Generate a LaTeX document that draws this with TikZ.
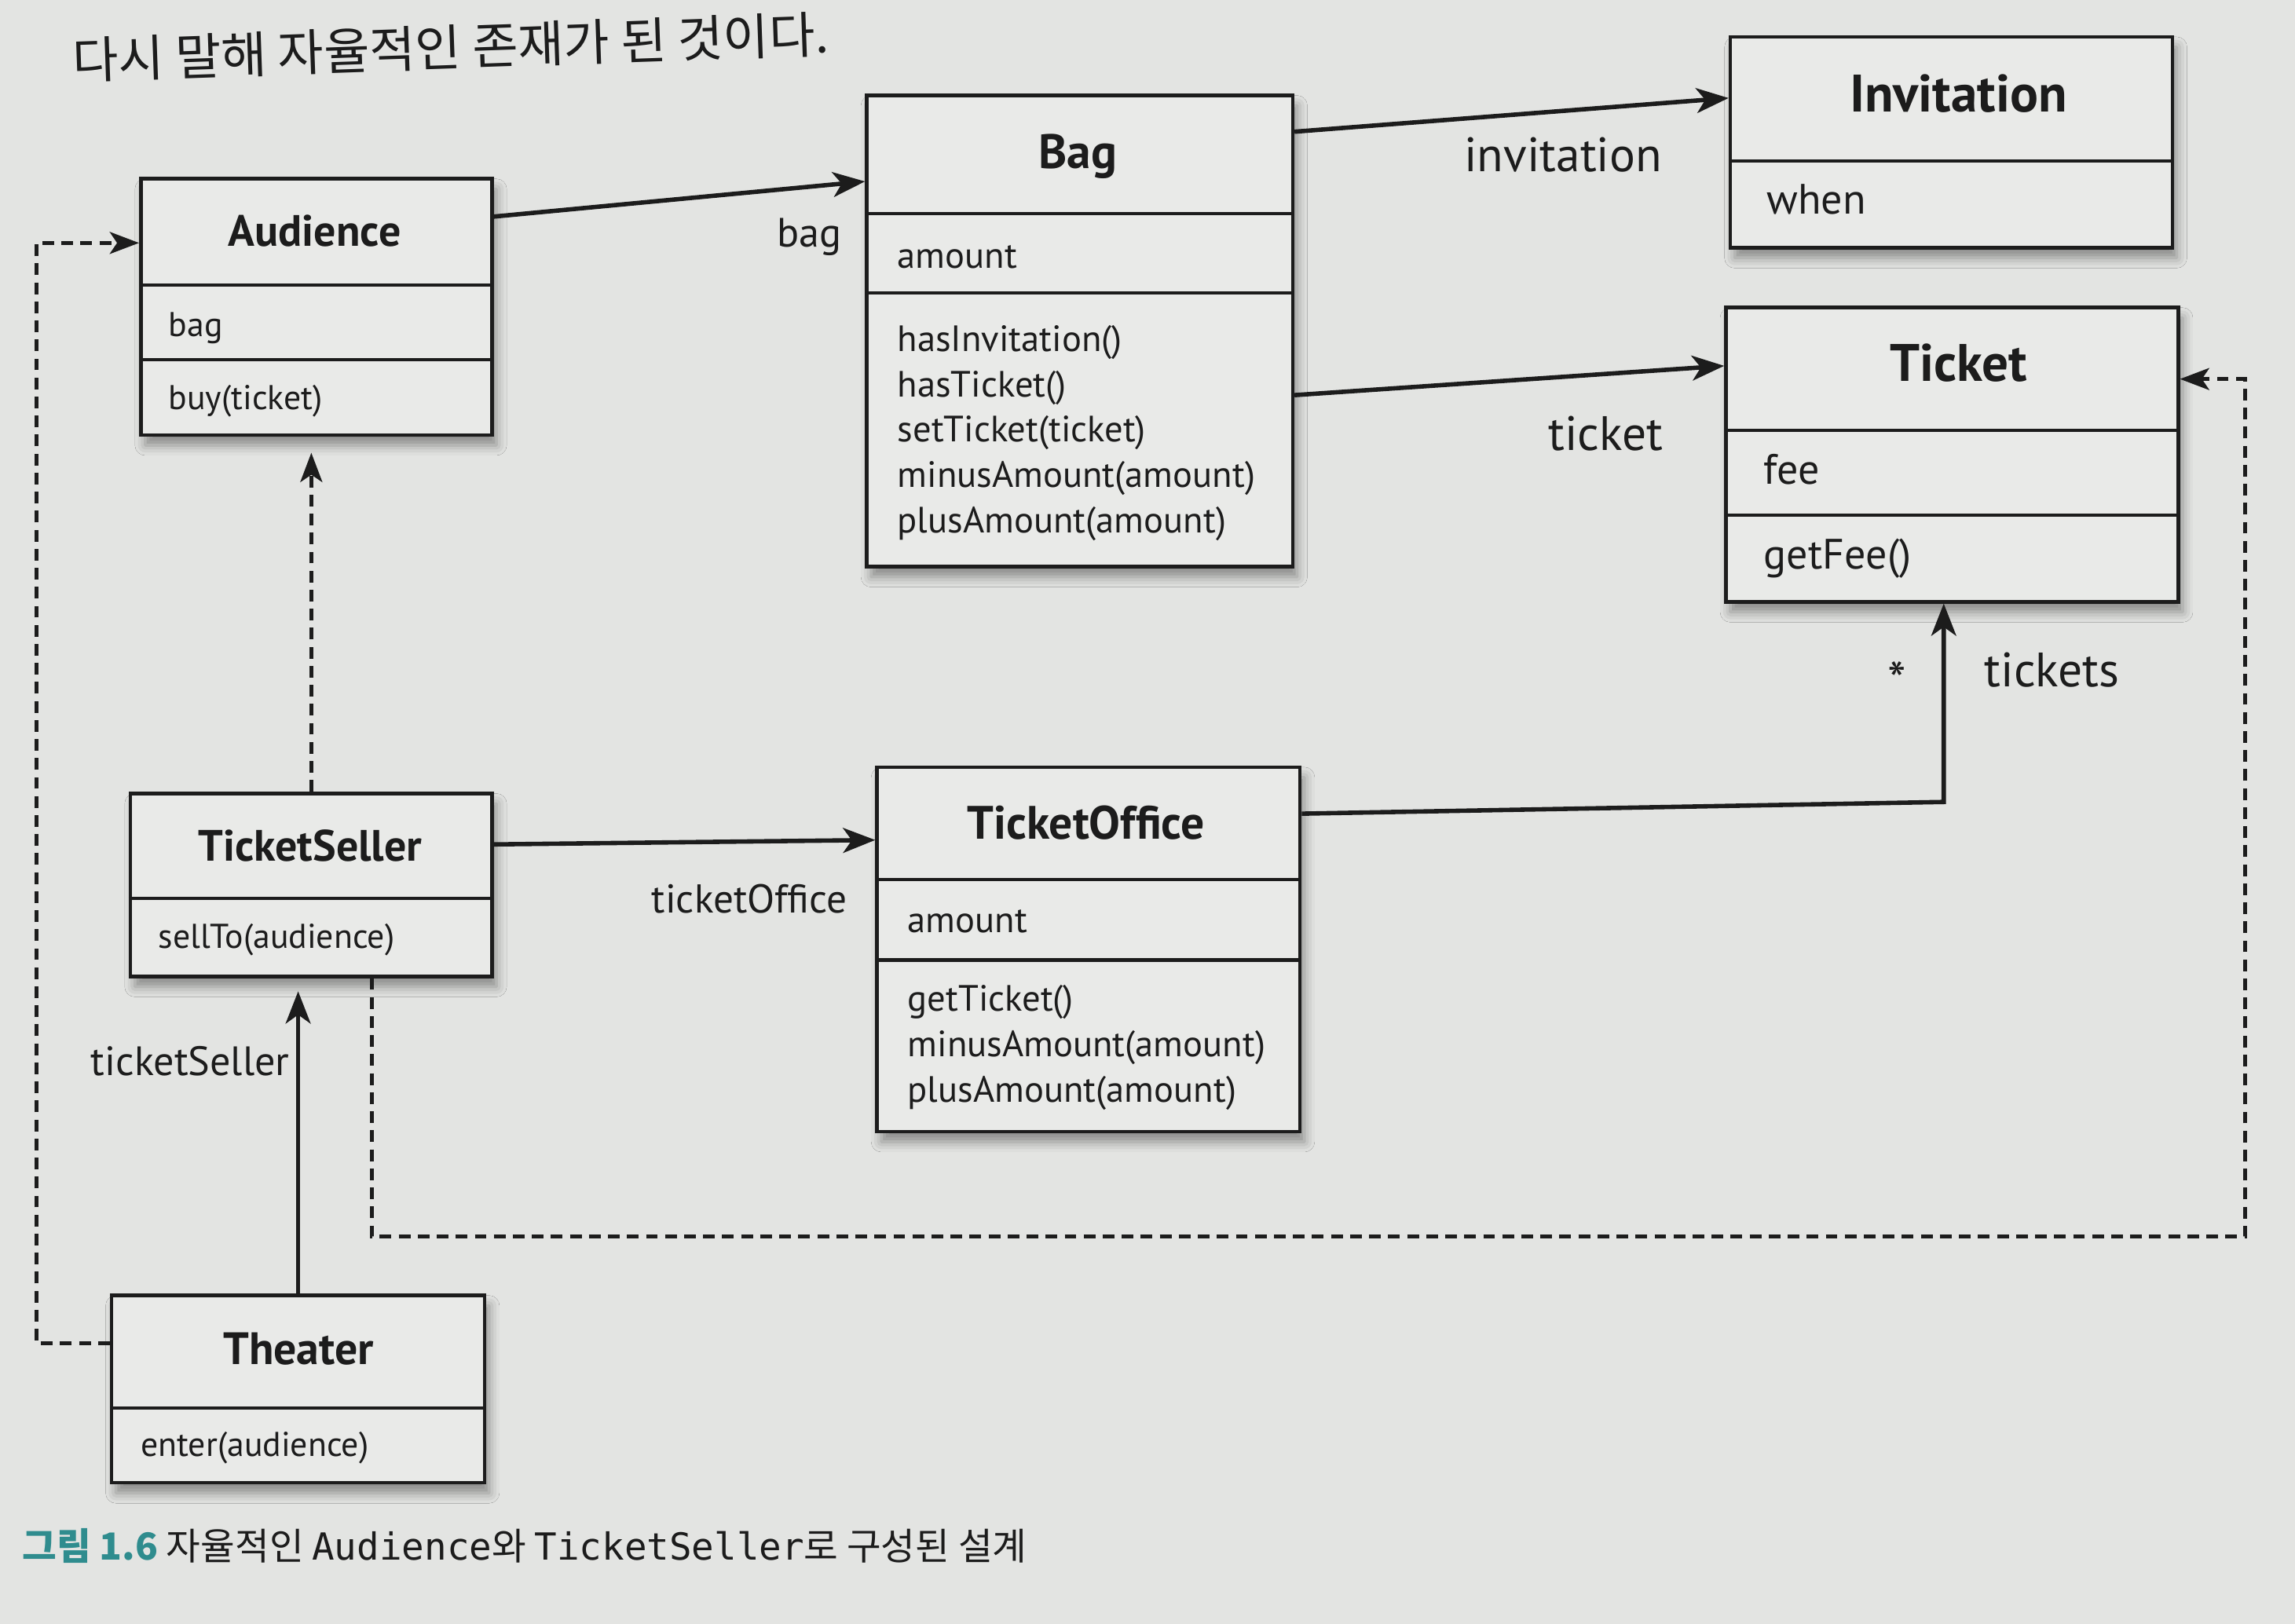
\documentclass[tikz,border=0pt]{standalone}
\usepackage{fontspec}
\setmainfont{PT Sans}
\newfontfamily\kr{Noto Sans CJK KR}
\newfontfamily\mono{DejaVu Sans Mono}
\usetikzlibrary{arrows.meta,shadows.blur}
\definecolor{paper}{HTML}{E3E4E2}
\definecolor{boxfill}{HTML}{E9EAE8}
\definecolor{ink}{HTML}{1C1C1C}
\definecolor{capteal}{HTML}{2F8C8E}
\begin{document}
\begin{tikzpicture}[x=1pt,y=-1pt,
  cls/.style={draw=ink, line width=2.4pt, fill=boxfill, inner sep=0pt, anchor=north west,
    blur shadow={shadow xshift=3pt, shadow yshift=-7pt, shadow blur radius=7pt, shadow opacity=40}},
  div/.style={draw=ink, line width=2.2pt},
  ttl/.style={font=\fontsize{#1}{#1}\selectfont\bfseries, text=ink, inner sep=0pt},
  ttl/.default=30,
  mem/.style={font=\fontsize{#1}{#1}\selectfont, text=ink, inner sep=0pt, anchor=base west},
  mem/.default=25,
  lbl/.style={font=\fontsize{#1}{#1}\selectfont, text=ink, inner sep=0pt},
  lbl/.default=28,
  assoc/.style={draw=ink, line width=3pt, -{Stealth[length=22pt,width=17pt,inset=6pt]}},
  dep/.style={draw=ink, line width=2.4pt, dash pattern=on 8pt off 5pt, -{Stealth[length=20pt,width=15pt,inset=5pt]}}
]
\fill[paper] (0,0) rectangle (1568,1109.7);
\useasboundingbox (0,0) rectangle (1568,1109.7);

% heading text
\node[font=\kr\fontsize{34}{40}\selectfont, text=ink, rotate=2, anchor=base west, inner sep=0pt] (head) at (50,54) {다시 말해 자율적인 존재가 된 것이다.};

% ---------- Audience ----------
\node[cls, minimum width=240pt, minimum height=175pt] (aud) at (95,121) {};
\draw[div] (aud.west |- 0,195) -- (aud.east |- 0,195);
\draw[div] (aud.west |- 0,246) -- (aud.east |- 0,246);
\node[ttl=30] (audT) at (215,158) {Audience};
\node[mem=23.5] (audF) at (115,230) {bag};
\node[mem=23.5] (audM) at (115,280) {buy(ticket)};

% ---------- Bag ----------
\node[cls, minimum width=291pt, minimum height=322pt] (bag) at (591,64) {};
\draw[div] (bag.west |- 0,146) -- (bag.east |- 0,146);
\draw[div] (bag.west |- 0,200) -- (bag.east |- 0,200);
\node[ttl=33] (bagT) at (736.5,107) {Bag};
\node[mem] (bagF) at (613,183) {amount};
\node[mem] (bagM1) at (613,240) {hasInvitation()};
\node[mem] (bagM2) at (613,271) {hasTicket()};
\node[mem] (bagM3) at (613,302) {setTicket(ticket)};
\node[mem] (bagM4) at (613,333) {minusAmount(amount)};
\node[mem] (bagM5) at (613,364) {plusAmount(amount)};

% ---------- Invitation ----------
\node[cls, minimum width=302pt, minimum height=144pt] (inv) at (1181,24) {};
\draw[div] (inv.west |- 0,110) -- (inv.east |- 0,110);
\node[ttl=36] (invT) at (1338,64) {Invitation};
\node[mem=29] (invF) at (1207,146) {when};

% ---------- Ticket ----------
\node[cls, minimum width=309pt, minimum height=201pt] (tic) at (1178,209) {};
\draw[div] (tic.west |- 0,294) -- (tic.east |- 0,294);
\draw[div] (tic.west |- 0,352) -- (tic.east |- 0,352);
\node[ttl=36] (ticT) at (1338,248) {Ticket};
\node[mem=29] (ticF) at (1205,331) {fee};
\node[mem=29] (ticM) at (1205,389) {getFee()};

% ---------- TicketSeller ----------
\node[cls, minimum width=247pt, minimum height=125pt] (ts) at (88,541) {};
\draw[div] (ts.west |- 0,614) -- (ts.east |- 0,614);
\node[ttl=30] (tsT) at (212,578) {TicketSeller};
\node[mem=23.5] (tsM) at (108,648) {sellTo(audience)};

% ---------- TicketOffice ----------
\node[cls, minimum width=289pt, minimum height=249pt] (to) at (598,523) {};
\draw[div] (to.west |- 0,601) -- (to.east |- 0,601);
\draw[div] (to.west |- 0,656) -- (to.east |- 0,656);
\node[ttl=32] (toT) at (742,562) {TicketOffice};
\node[mem] (toF) at (620,637) {amount};
\node[mem] (toM1) at (620,691) {getTicket()};
\node[mem] (toM2) at (620,722) {minusAmount(amount)};
\node[mem] (toM3) at (620,753) {plusAmount(amount)};

% ---------- Theater ----------
\node[cls, minimum width=255pt, minimum height=128pt] (th) at (75,884) {};
\draw[div] (th.west |- 0,962) -- (th.east |- 0,962);
\node[ttl=31] (thT) at (204,922) {Theater};
\node[mem=23.5] (thM) at (96,995) {enter(audience)};

% ---------- associations ----------
\draw[assoc] (aud.east |- 0,148) -- (bag.west |- 0,124);
\node[lbl=28] (lbag) at (553,162) {bag};

\draw[assoc] (bag.east |- 0,90) -- (inv.west |- 0,67);
\node[lbl=33] (linv) at (1068,106) {invitation};

\draw[assoc] (bag.east |- 0,270) -- (tic.west |- 0,250);
\node[lbl=33] (ltic) at (1097,296) {ticket};

\draw[assoc] (ts.east |- 0,577) -- (to.west |- 0,574);
\node[lbl=27.5] (lto) at (512,614) {ticketOffice};

\coordinate (c1) at (1328,548);
\draw[assoc] (to.east |- 0,556) -- (c1) -- (c1 |- tic.south);
\node[lbl=36] (lstar) at (1296,465) {*};
\node[lbl=33] (ltics) at (1402,458) {tickets};

\draw[assoc, line width=2.8pt, shorten >=9pt] (th.north) -- (th.north |- ts.south);
\node[lbl=28] (lts) at (130,725) {ticketSeller};

% ---------- dependencies ----------
\draw[dep, shorten >=11pt] (ts.north) -- (ts.north |- aud.south);

\coordinate (d1) at (25,918);
\coordinate (d2) at (25,166);
\draw[dep] (th.west |- d1) -- (d1) -- (d2) -- (aud.west |- d2);

\coordinate (e1) at (254,845);
\coordinate (e2) at (1534,845);
\coordinate (e3) at (1534,259);
\draw[dep] (e1 |- ts.south) -- (e1) -- (e2) -- (e3) -- (tic.east |- e3);

% ---------- caption ----------
\node[anchor=base west, inner sep=0pt, text=ink] (cap) at (15,1066)
  {\kr\fontsize{25.5}{30}\selectfont{\bfseries\color{capteal}그림 1.6} 자율적인 {\mono Audience}와 {\mono TicketSeller}로 구성된 설계};
\end{tikzpicture}
\end{document}
